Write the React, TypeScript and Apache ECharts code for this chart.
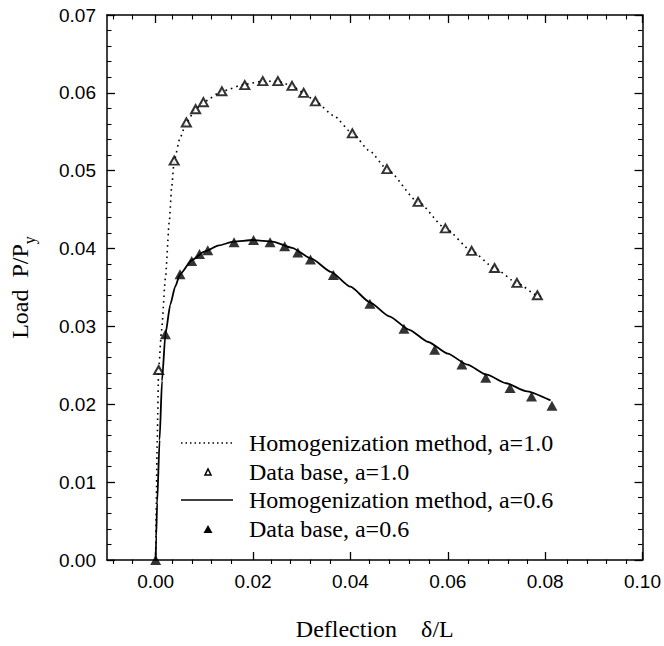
import React, { useEffect, useRef } from 'react';
import * as echarts from 'echarts';

// Homogenization method, a = 1.0 (dotted curve)
const homX10 = [0, 0.0001, 0.0003, 0.0006, 0.0012, 0.0020, 0.0028, 0.0033, 0.0038, 0.0050, 0.0063, 0.0082, 0.0100, 0.0136, 0.0183, 0.0220, 0.0251, 0.0280, 0.0304, 0.0328, 0.0365, 0.0404, 0.0440, 0.0475, 0.0539, 0.0595, 0.0649, 0.0696, 0.0742, 0.0784, 0.0797];
const homY10 = [0, 0.0060, 0.0150, 0.0244, 0.0295, 0.0362, 0.0435, 0.0480, 0.0513, 0.0542, 0.0562, 0.0579, 0.0589, 0.0602, 0.0611, 0.0615, 0.0615, 0.0609, 0.0600, 0.0589, 0.0571, 0.0548, 0.0525, 0.0502, 0.0460, 0.0426, 0.0397, 0.0375, 0.0356, 0.0340, 0.0336];

// Data base, a = 1.0 (open triangles)
const dbX10 = [0.0006, 0.0038, 0.0063, 0.0082, 0.0098, 0.0136, 0.0183, 0.0220, 0.0251, 0.0280, 0.0304, 0.0328, 0.0404, 0.0475, 0.0539, 0.0595, 0.0649, 0.0696, 0.0742, 0.0784];
const dbY10 = [0.0244, 0.0513, 0.0562, 0.0579, 0.0588, 0.0602, 0.0610, 0.0615, 0.0615, 0.0609, 0.0600, 0.0589, 0.0548, 0.0502, 0.0460, 0.0426, 0.0397, 0.0375, 0.0356, 0.0340];

// Homogenization method, a = 0.6 (solid curve)
const homX06 = [0, 0.0001, 0.0003, 0.0008, 0.0013, 0.0020, 0.0030, 0.0040, 0.0050, 0.0074, 0.0100, 0.0130, 0.0160, 0.0200, 0.0240, 0.0280, 0.0320, 0.0360, 0.0400, 0.0440, 0.0480, 0.0520, 0.0560, 0.0600, 0.0640, 0.0680, 0.0720, 0.0760, 0.0811];
const homY06 = [0, 0.0030, 0.0073, 0.0154, 0.0230, 0.0290, 0.0328, 0.0351, 0.0367, 0.0385, 0.0396, 0.0404, 0.0409, 0.0411, 0.0409, 0.0401, 0.0387, 0.0370, 0.0351, 0.0331, 0.0313, 0.0296, 0.0280, 0.0265, 0.0251, 0.0238, 0.0227, 0.0217, 0.0205];

// Data base, a = 0.6 (filled triangles)
const dbX06 = [0, 0.0020, 0.0050, 0.0074, 0.0090, 0.0107, 0.0161, 0.0201, 0.0235, 0.0265, 0.0292, 0.0318, 0.0365, 0.0440, 0.0510, 0.0573, 0.0629, 0.0678, 0.0728, 0.0772, 0.0814];
const dbY06 = [0, 0.0290, 0.0367, 0.0384, 0.0393, 0.0398, 0.0408, 0.0411, 0.0408, 0.0403, 0.0395, 0.0386, 0.0366, 0.0329, 0.0297, 0.0270, 0.0251, 0.0234, 0.0221, 0.0210, 0.0198];

// Axis ticks
const xMajorTicks = [0, 0.02, 0.04, 0.06, 0.08, 0.1];
const xMinorTicks = [-0.008, -0.004, 0.004, 0.008, 0.012, 0.016, 0.024, 0.028, 0.032, 0.036, 0.044, 0.048, 0.052, 0.056, 0.064, 0.068, 0.072, 0.076, 0.084, 0.088, 0.092, 0.096];

const legendLabels = [
  'Homogenization method, a=1.0',
  'Data base, a=1.0',
  'Homogenization method, a=0.6',
  'Data base, a=0.6',
];

const SERIF = '"Liberation Serif", "Times New Roman", serif';
const SANS = '"Liberation Sans", Arial, sans-serif';

const zip = (xs: number[], ys: number[]) => xs.map((x, i) => [x, ys[i]]);

export default function App() {
  const ref = useRef<HTMLDivElement>(null);

  useEffect(() => {
    if (!ref.current) return;
    const chart = echarts.init(ref.current, undefined, { renderer: 'svg' });

    const gridRect = { left: 103, right: 18, top: 15, bottom: 82 };
    const black = '#000';

    const baseX = { type: 'value' as const, min: -0.01, max: 0.1, splitLine: { show: false } };
    const baseY = { type: 'value' as const, min: 0, max: 0.07, interval: 0.01, splitLine: { show: false } };

    const legendRowsY = [443, 472, 500, 529];
    const legendGraphics: any[] = [
      {
        type: 'line',
        shape: { x1: 181, y1: legendRowsY[0], x2: 233, y2: legendRowsY[0] },
        style: { stroke: black, lineWidth: 1.5, lineDash: [1.5, 3] },
      },
      {
        type: 'polygon',
        shape: { points: [[205, legendRowsY[1] + 3], [211, legendRowsY[1] + 3], [208, legendRowsY[1] - 3]] },
        style: { fill: '#fff', stroke: black, lineWidth: 1.5 },
      },
      {
        type: 'line',
        shape: { x1: 181, y1: legendRowsY[2], x2: 233, y2: legendRowsY[2] },
        style: { stroke: black, lineWidth: 1.5 },
      },
      {
        type: 'polygon',
        shape: { points: [[203.5, legendRowsY[3] + 4], [212.5, legendRowsY[3] + 4], [208, legendRowsY[3] - 4]] },
        style: { fill: black },
      },
      ...legendLabels.map((t, i) => ({
        type: 'text',
        x: 249,
        y: legendRowsY[i],
        style: {
          text: t,
          font: `24px ${SERIF}`,
          fill: black,
          verticalAlign: 'middle',
          textVerticalAlign: 'middle',
        },
      })),
    ];

    chart.setOption({
      animation: false,
      backgroundColor: '#fff',
      grid: [{ ...gridRect }, { ...gridRect }],
      xAxis: [
        {
          ...baseX,
          gridIndex: 0,
          position: 'bottom',
          axisLine: { show: true, onZero: false, lineStyle: { color: black, width: 1.5 } },
          axisTick: { show: true, inside: true, length: 8, customValues: xMajorTicks, lineStyle: { color: black, width: 1.3 } },
          axisLabel: {
            show: true,
            customValues: xMajorTicks,
            formatter: (v: number) => v.toFixed(2),
            fontSize: 19,
            fontFamily: SANS,
            color: black,
            margin: 12,
          },
          name: 'Deflection    δ/L',
          nameLocation: 'middle',
          nameGap: 57,
          nameTextStyle: { fontFamily: SERIF, fontSize: 24, color: black },
        },
        {
          ...baseX,
          gridIndex: 0,
          position: 'top',
          axisLine: { show: true, onZero: false, lineStyle: { color: black, width: 1.5 } },
          axisTick: { show: true, inside: true, length: 8, customValues: xMajorTicks, lineStyle: { color: black, width: 1.3 } },
          axisLabel: { show: false },
        },
        {
          ...baseX,
          gridIndex: 1,
          position: 'bottom',
          axisLine: { show: false, onZero: false },
          axisTick: { show: true, inside: true, length: 4.5, customValues: xMinorTicks, lineStyle: { color: black, width: 1.1 } },
          axisLabel: { show: false },
        },
        {
          ...baseX,
          gridIndex: 1,
          position: 'top',
          axisLine: { show: false, onZero: false },
          axisTick: { show: true, inside: true, length: 4.5, customValues: xMinorTicks, lineStyle: { color: black, width: 1.1 } },
          axisLabel: { show: false },
        },
      ],
      yAxis: [
        {
          ...baseY,
          gridIndex: 0,
          position: 'left',
          axisLine: { show: true, onZero: false, lineStyle: { color: black, width: 1.5 } },
          axisTick: { show: true, inside: true, length: 8, lineStyle: { color: black, width: 1.3 } },
          minorTick: { show: true, splitNumber: 5, length: 4.5, lineStyle: { color: black, width: 1.1 } },
          axisLabel: {
            formatter: (v: number) => v.toFixed(2),
            fontSize: 19,
            fontFamily: SANS,
            color: black,
            margin: 11,
          },
          name: '{a|Load  P/P}{s|y}',
          nameLocation: 'middle',
          nameRotate: 90,
          nameGap: 70,
          nameTextStyle: {
            color: black,
            rich: {
              a: { fontFamily: SERIF, fontSize: 24, lineHeight: 34, color: black },
              s: { fontFamily: SERIF, fontSize: 16, lineHeight: 16, verticalAlign: 'bottom', color: black },
            },
          },
        },
        {
          ...baseY,
          gridIndex: 0,
          position: 'right',
          axisLine: { show: true, onZero: false, lineStyle: { color: black, width: 1.5 } },
          axisTick: { show: true, inside: true, length: 8, lineStyle: { color: black, width: 1.3 } },
          minorTick: { show: true, splitNumber: 5, length: 4.5, lineStyle: { color: black, width: 1.1 } },
          axisLabel: { show: false },
        },
        { ...baseY, gridIndex: 1, show: false },
      ],
      series: [
        {
          name: legendLabels[0],
          type: 'line',
          xAxisIndex: 0,
          yAxisIndex: 0,
          data: zip(homX10, homY10),
          symbol: 'none',
          smooth: 0.2,
          smoothMonotone: 'x',
          lineStyle: { color: black, width: 1.6, type: [1.6, 4] },
          z: 2,
        },
        {
          name: legendLabels[1],
          type: 'scatter',
          xAxisIndex: 0,
          yAxisIndex: 0,
          data: zip(dbX10, dbY10),
          symbol: 'triangle',
          symbolSize: [9, 8],
          itemStyle: { color: '#fff', borderColor: black, borderWidth: 2 },
          z: 4,
        },
        {
          name: legendLabels[2],
          type: 'line',
          xAxisIndex: 0,
          yAxisIndex: 0,
          data: zip(homX06, homY06),
          symbol: 'none',
          smooth: 0.2,
          smoothMonotone: 'x',
          lineStyle: { color: black, width: 1.8 },
          z: 2,
        },
        {
          name: legendLabels[3],
          type: 'scatter',
          xAxisIndex: 0,
          yAxisIndex: 0,
          data: zip(dbX06, dbY06),
          symbol: 'triangle',
          symbolSize: [11, 10],
          itemStyle: { color: black },
          z: 4,
        },
      ],
      graphic: legendGraphics,
    });

    return () => chart.dispose();
  }, []);

  return (
    <div
      ref={ref}
      style={{ position: 'absolute', left: 0, top: 0, width: 664, height: 646, background: '#fff' }}
    />
  );
}
